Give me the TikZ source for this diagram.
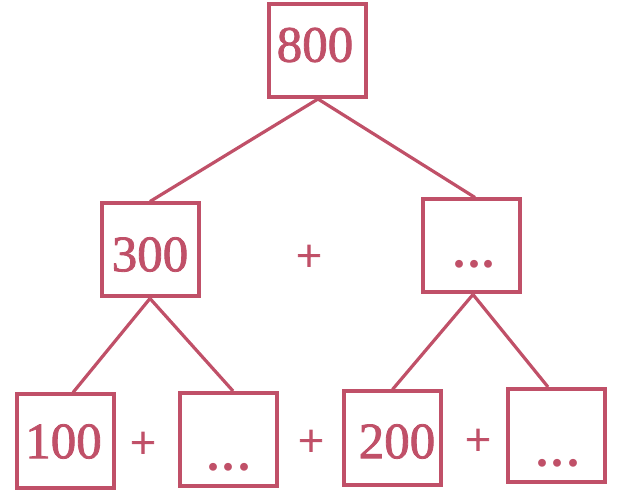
\documentclass[tikz,border=0pt]{standalone}
\usepackage{fontspec}
\setmainfont{Liberation Serif}
\newfontfamily\numfont{Liberation Serif}[FakeBold=1.6]
\definecolor{rose}{RGB}{192,80,104}
\begin{document}
\begin{tikzpicture}[x=1pt,y=-1pt,
  box/.style={draw=rose, line width=4pt, minimum width=97pt, minimum height=93pt, inner sep=0pt},
  num/.style={text=rose, inner sep=0pt, font=\numfont\fontsize{51}{60}\selectfont},
  dots/.style={text=rose, inner sep=0pt, font=\fontsize{48}{60}\selectfont\bfseries},
  plus/.style={text=rose, inner sep=0pt, font=\numfont\fontsize{46}{52}\selectfont},
  conn/.style={draw=rose, line width=3.2pt}]
\useasboundingbox (0,0) rectangle (619,494);
% boxes
\node[box] (A) at (317.5,50.5) {};
\node[box] (B) at (150,250) {};
\node[box] (C) at (471.5,246) {};
\node[box] (D) at (65,441) {};
\node[box] (E) at (228,439.5) {};
\node[box] (F) at (392.5,438) {};
\node[box] (G) at (556.5,435.5) {};
% texts
\node[num] (tA) at (315,45) {800};
\node[num] (tB) at (150,254.5) {300};
\node[dots] (tC) at (474,264) {.\kern2.5pt.\kern2.5pt.};
\node[num] (tD) at (63.5,441.5) {100};
\node[dots] (tE) at (229,467) {.\kern3.5pt.\kern3.5pt.};
\node[num] (tF) at (397,441.5) {200};
\node[dots] (tG) at (558,463) {.\kern3.5pt.\kern3.5pt.};
% plus signs
\node[plus] (p1) at (309,258) {+};
\node[plus] (p2) at (143,445) {+};
\node[plus] (p3) at (311,443) {+};
\node[plus] (p4) at (478,442) {+};
% connectors
\draw[conn] ([xshift=0.5pt]A.south) -- (B.north);
\draw[conn] ([xshift=0.5pt]A.south) -- ([xshift=3.5pt]C.north);
\draw[conn] (B.south) -- ([xshift=8pt]D.north);
\draw[conn] (B.south) -- ([xshift=5pt]E.north);
\draw[conn] ([xshift=1.5pt]C.south) -- (F.north);
\draw[conn] ([xshift=1.5pt]C.south) -- ([xshift=-8.5pt]G.north);
\end{tikzpicture}
\end{document}
